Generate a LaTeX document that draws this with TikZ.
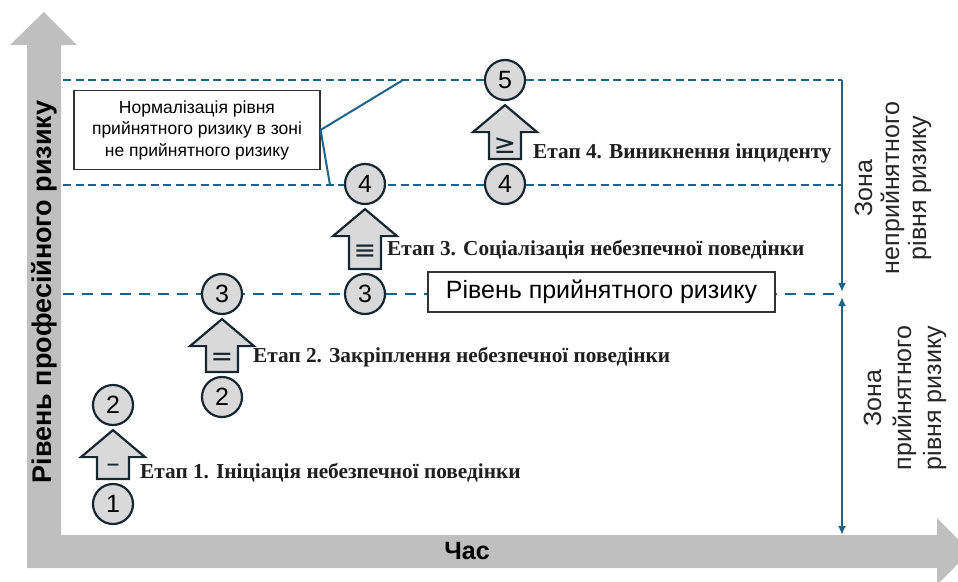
\documentclass[tikz,border=0pt]{standalone}
\usepackage{fontspec}
\setmainfont{Liberation Sans}
\newfontfamily\stagefont{Liberation Serif}
\newfontfamily\symfont{DejaVu Sans}
\usepackage{xcolor}
\usepackage{tikz}
\usetikzlibrary{arrows.meta,calc}

\definecolor{axisgray}{RGB}{191,191,191}
\definecolor{riskblue}{RGB}{28,100,135}
\definecolor{stepfill}{RGB}{217,217,217}
\definecolor{stepedge}{RGB}{24,38,48}

\begin{document}
\begin{tikzpicture}[x=1pt, y=-1pt,
    stepnum/.style={circle, draw=stepedge, fill=stepfill, line width=2.2pt,
        minimum size=40pt, inner sep=0pt, font=\fontsize{25}{25}\selectfont},
    blockarrow/.style={draw=stepedge, fill=stepfill, line width=2.2pt, line join=miter},
    levelline/.style={riskblue, line width=2.6pt, dash pattern=on 8pt off 4.5pt},
    acceptline/.style={riskblue, line width=2.6pt, dash pattern=on 11pt off 8pt},
    zonearrow/.style={riskblue, line width=2pt},
    calloutline/.style={riskblue, line width=2pt},
    stagetext/.style={anchor=west, inner sep=0pt, text=black!88,
        font=\stagefont\bfseries\fontsize{21.3}{24}\selectfont},
    labelbox/.style={draw=black!80, fill=white, line width=1.2pt, align=center, inner sep=0pt},
    zonetext/.style={rotate=90, align=center, text=black!85},
    symtext/.style={font=\symfont\fontsize{27}{27}\selectfont, inner sep=0pt, text=stepedge}
]
\useasboundingbox (0,0) rectangle (958,581);

% axes
\fill[axisgray] (27,568) -- (27,45) -- (10,45) -- (44,12) -- (77,45) -- (61,45)
    -- (61,535) -- (937,535) -- (937,518) -- (970,551.5) -- (937,585) -- (937,568) -- cycle;
\node[rotate=90, font=\bfseries\fontsize{27}{27}\selectfont] (ylabel) at (44,292)
    {Рівень професійного ризику};
\node[font=\bfseries\fontsize{25}{25}\selectfont] (xlabel) at (467,551) {Час};

% risk levels
\coordinate (lvl5w) at (63,80);   \coordinate (lvl5e) at (842,80);
\coordinate (lvl4w) at (63,185);  \coordinate (lvl4e) at (842,185);
\coordinate (lvl3w) at (63,294);  \coordinate (lvl3e) at (842,294);
\coordinate (axisend) at (842,535);
\draw[levelline] (lvl5w) -- (lvl5e);
\draw[levelline] (lvl4w) -- (lvl4e);
\draw[acceptline] (lvl3w) -- (lvl3e);
\draw[zonearrow, -{Latex[length=9pt,width=8pt]}] (lvl5e) -- ($(lvl3e)+(0,-2)$);
\draw[zonearrow, {Latex[length=9pt,width=8pt]}-{Latex[length=9pt,width=8pt]}]
    ($(lvl3e)+(0,3)$) -- (axisend);

\node[labelbox, minimum width=347pt, minimum height=40pt,
    font=\fontsize{25}{25}\selectfont] (accbox) at (601.5,292) {Рівень прийнятного ризику};
\node[labelbox, minimum width=246pt, minimum height=79pt,
    font=\fontsize{17.5}{21.5}\selectfont] (normbox) at (197,130)
    {Нормалізація рівня\\прийнятного ризику в зоні\\не прийнятного ризику};
\coordinate (cue5) at (403,80);
\coordinate (cue4) at (330,185);
\draw[calloutline] (normbox.east) -- (cue5);
\draw[calloutline] (normbox.east) -- (cue4);

\node[zonetext, font=\fontsize{25}{27}\selectfont] (zonebad) at (893,188)
    {Зона\\неприйнятного\\рівня ризику};
\node[zonetext, font=\fontsize{25}{30}\selectfont] (zonegood) at (905,398)
    {Зона\\прийнятного\\рівня ризику};

% stages
\foreach \i/\cx/\yb/\yt/\sym/\tx/\ty/\txt in {
    1/113/504/405/{–}/140/473/{Етап 1. Ініціація небезпечної поведінки},
    2/222/397/294/{=}/253/357/{Етап 2. Закріплення небезпечної поведінки},
    3/365/294/184/{≡}/387/250/{Етап 3. Соціалізація небезпечної поведінки},
    4/505/184/80/{≥}/533/153/{Етап 4. Виникнення інциденту}} {
    \pgfmathtruncatemacro{\j}{\i+1}
    \node[stepnum] (lo\i) at (\cx,\yb) {\i};
    \node[stepnum] (hi\i) at (\cx,\yt) {\j};
    \filldraw[blockarrow] ($(lo\i.north)+(-16,-4)$) -- ($(hi\i.south)+(-16,31)$)
        -- ($(hi\i.south)+(-32,31)$) -- ($(hi\i.south)+(0,4)$) -- ($(hi\i.south)+(32,31)$)
        -- ($(hi\i.south)+(16,31)$) -- ($(lo\i.north)+(16,-4)$) -- cycle;
    \node[symtext] (sym\i) at ($(hi\i.south)!0.5!(lo\i.north)+(0,13.5)$) {\sym};
    \node[stagetext] (stage\i) at (\tx,\ty) {\txt};
}
\end{tikzpicture}
\end{document}
